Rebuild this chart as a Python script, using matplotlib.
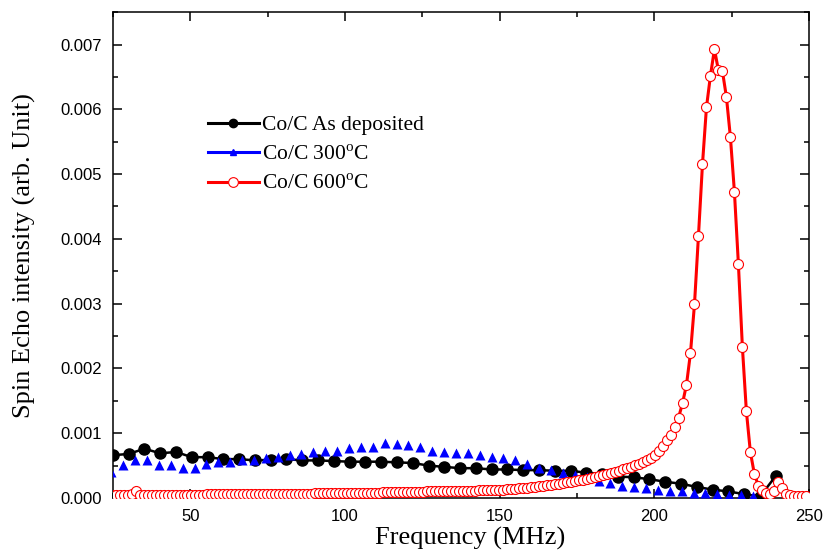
import numpy as np
import matplotlib
matplotlib.use('Agg')
import matplotlib.pyplot as plt
from matplotlib.lines import Line2D
from matplotlib.ticker import MultipleLocator

plt.rcParams['font.family'] = 'Liberation Sans'
plt.rcParams['mathtext.fontset'] = 'custom'
plt.rcParams['mathtext.rm'] = 'Liberation Serif'

# Co/C as deposited (5.1 MHz steps)
freq_dep = 25.0 + 5.1 * np.arange(43)
spin_dep = [6.6, 6.8, 7.6, 6.9, 7.1, 6.3, 6.3, 6.0, 6.0, 5.8,
            5.9, 6.0, 5.8, 5.8, 5.7, 5.6, 5.6, 5.6, 5.5, 5.4,
            5.0, 4.8, 4.6, 4.6, 4.4, 4.4, 4.3, 4.3, 4.2, 4.2,
            3.9, 3.7, 3.3, 3.2, 2.9, 2.5, 2.2, 1.7, 1.3, 1.0,
            0.6, 0.2, 3.4]

# Co/C 300C (3.84 MHz steps)
freq_300 = 24.5 + 3.84 * np.arange(55)
spin_300 = [4.0, 5.1, 5.8, 5.8, 5.1, 5.1, 4.7, 4.7, 5.2, 5.5,
            5.6, 5.8, 5.9, 6.1, 6.3, 6.6, 6.8, 7.1, 7.3, 7.3,
            7.7, 7.9, 7.9, 8.5, 8.3, 8.2, 7.8, 7.3, 7.1, 7.0,
            7.0, 6.6, 6.4, 6.1, 5.8, 5.2, 4.7, 4.3, 3.8, 3.5,
            3.3, 2.6, 2.3, 1.9, 1.7, 1.5, 1.3, 1.1, 1.0, 0.8,
            0.7, 0.6, 0.5, 0.4, 0.3]

# Co/C 600C (1.29 MHz steps)
freq_600 = 24.6 + 1.29 * np.arange(175)
spin_600 = [0.5, 0.5, 0.5, 0.5, 0.5, 0.6, 1.0, 0.5, 0.5, 0.5,
            0.5, 0.5, 0.5, 0.5, 0.5, 0.5, 0.5, 0.5, 0.5, 0.5,
            0.5, 0.5, 0.5, 0.5, 0.55, 0.55, 0.55, 0.55, 0.55, 0.55,
            0.55, 0.55, 0.55, 0.6, 0.6, 0.6, 0.6, 0.6, 0.6, 0.6,
            0.6, 0.6, 0.6, 0.6, 0.65, 0.65, 0.65, 0.65, 0.65, 0.65,
            0.65, 0.7, 0.7, 0.7, 0.7, 0.7, 0.7, 0.7, 0.75, 0.75,
            0.75, 0.75, 0.75, 0.8, 0.8, 0.8, 0.8, 0.8, 0.85, 0.85,
            0.85, 0.85, 0.9, 0.9, 0.9, 0.9, 0.95, 0.95, 0.95, 1.0,
            1.0, 1.0, 1.0, 1.05, 1.05, 1.05, 1.1, 1.1, 1.1, 1.15,
            1.15, 1.15, 1.2, 1.2, 1.2, 1.25, 1.25, 1.3, 1.3, 1.35,
            1.4, 1.45, 1.5, 1.55, 1.6, 1.65, 1.7, 1.8, 1.85, 1.95,
            2.0, 2.1, 2.2, 2.3, 2.4, 2.5, 2.6, 2.7, 2.8, 2.95,
            3.1, 3.25, 3.4, 3.55, 3.7, 3.85, 4.0, 4.2, 4.4, 4.6,
            4.85, 5.05, 5.3, 5.55, 5.8, 6.15, 6.6, 7.3, 8.1, 8.9,
            9.7, 10.9, 12.4, 14.6, 17.5, 22.4, 29.9, 40.5, 51.5, 60.3,
            65.2, 69.3, 66.0, 65.9, 61.9, 55.7, 47.3, 36.1, 23.3, 13.4,
            7.1, 3.7, 1.9, 1.2, 0.8, 0.6, 1.0, 2.5, 1.6, 0.6,
            0.4, 0.3, 0.3, 0.3, 0.3]

scale = 1e-4
labels = ['Co/C As deposited', 'Co/C 300$^\\mathregular{o}$C', 'Co/C 600$^\\mathregular{o}$C']

fig = plt.figure(figsize=(8.24, 5.53), dpi=100)
ax = fig.add_axes([0.137, 0.0995, 0.845, 0.8785])

ax.plot(freq_dep, np.array(spin_dep) * scale, '-o', color='black', lw=1.8,
        ms=8, zorder=2)
ax.plot(freq_300, np.array(spin_300) * scale, '^', color='#0000ff', ms=6.5,
        mec='none', zorder=3)
ax.plot(freq_600, np.array(spin_600) * scale, '-o', color='red', lw=2.2,
        ms=7.2, mfc='white', mec='red', mew=0.8, zorder=4)

ax.set_xlim(25, 250)
ax.set_ylim(0, 0.0075)
ax.xaxis.set_major_locator(MultipleLocator(50))
ax.xaxis.set_minor_locator(MultipleLocator(25))
ax.yaxis.set_major_locator(MultipleLocator(0.001))
ax.yaxis.set_minor_locator(MultipleLocator(0.0005))
ax.yaxis.set_major_formatter(plt.FormatStrFormatter('%.3f'))
ax.tick_params(which='both', direction='in', top=True, right=True, width=1.1,
               labelsize=12, pad=8)
ax.tick_params(which='major', length=6.5)
ax.tick_params(which='minor', length=3.5)
for s in ax.spines.values():
    s.set_linewidth(1.1)

ax.set_xlabel('Frequency (MHz)', family='Liberation Serif', fontsize=19)
ax.set_ylabel('Spin Echo intensity (arb. Unit)', family='Liberation Serif', fontsize=19)
ax.xaxis.set_label_coords(0.513, -0.06)
ax.yaxis.set_label_coords(-0.11, 0.5)

handles = [
    Line2D([], [], color='black', lw=2.2, marker='o', ms=6),
    Line2D([], [], color='#0000ff', lw=2.2, marker='^', ms=4),
    Line2D([], [], color='red', lw=2.2, marker='o', ms=7, mfc='white', mec='red', mew=0.8),
]
ax.legend(handles, labels, loc='upper left', bbox_to_anchor=(0.1365, 0.788),
          frameon=False, borderpad=0, borderaxespad=0, handlelength=2.37,
          handletextpad=0.16, labelspacing=0.44,
          prop={'family': 'Liberation Serif', 'size': 15.5})

fig.savefig('out.png', dpi=100)
